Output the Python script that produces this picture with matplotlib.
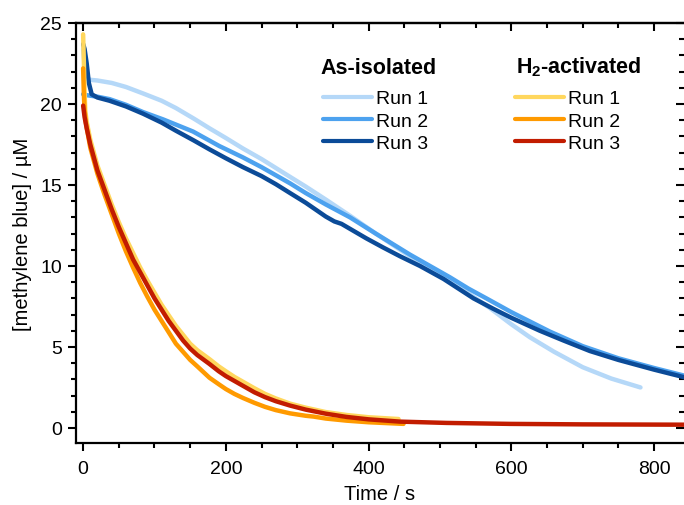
import matplotlib
matplotlib.use("Agg")
import matplotlib.pyplot as plt
from matplotlib.ticker import MultipleLocator

plt.rcParams['font.family'] = ['Liberation Sans', 'DejaVu Sans']
plt.rcParams['mathtext.fontset'] = 'custom'
plt.rcParams['mathtext.rm'] = 'Liberation Sans'
plt.rcParams['mathtext.bf'] = 'Liberation Sans:bold'

# As-isolated runs (time in s, concentration in uM)
t_ai1 = [0, 3, 8, 20, 40, 60, 84, 110, 130, 155, 177, 200, 224, 250, 270, 290, 312, 340, 374,
         410, 458, 490, 514, 540, 570, 600, 626, 660, 700, 740, 781]
c_ai1 = [23.4, 22.0, 21.5, 21.45, 21.3, 21.05, 20.65, 20.2, 19.75, 19.1, 18.5, 17.9, 17.25, 16.6,
         16.05, 15.5, 14.9, 14.1, 13.1, 12.0, 10.6, 9.8, 9.1, 8.3, 7.4, 6.4, 5.6, 4.7, 3.75, 3.05, 2.5]

t_ai2 = [0, 4, 20, 37, 60, 84, 112, 154, 191, 224, 250, 270, 290, 312, 340, 374, 410, 458, 490,
         514, 540, 565, 600, 654, 700, 750, 800, 845]
c_ai2 = [20.6, 20.55, 20.45, 20.3, 19.95, 19.5, 19.05, 18.3, 17.4, 16.7, 16.1, 15.6, 15.1, 14.5,
         13.8, 13.0, 12.0, 10.7, 9.9, 9.3, 8.6, 8.0, 7.15, 5.95, 5.05, 4.3, 3.7, 3.2]

t_ai3 = [0, 2, 5, 8, 12, 20, 37, 60, 84, 110, 130, 155, 177, 200, 224, 250, 270, 290, 312, 340,
         352, 362, 397, 420, 444, 472, 505, 547, 575, 600, 640, 673, 710, 750, 800, 845]
c_ai3 = [23.7, 23.4, 22.5, 21.3, 20.6, 20.4, 20.2, 19.85, 19.4, 18.85, 18.35, 17.75, 17.2, 16.65,
         16.1, 15.55, 15.05, 14.5, 13.9, 13.05, 12.75, 12.6, 11.7, 11.15, 10.6, 10.0, 9.2, 8.0,
         7.35, 6.8, 6.0, 5.4, 4.75, 4.2, 3.6, 3.1]

# H2-activated runs
t_h1 = [0, 1, 2, 3, 5, 10, 15, 20, 30, 40, 50, 60, 70, 80, 90, 100, 110, 120, 130, 140, 150, 160,
        177, 190, 200, 212, 224, 240, 255, 270, 290, 312, 340, 369, 400, 442]
c_h1 = [24.3, 22.6, 20.8, 19.6, 18.9, 17.8, 17.0, 16.2, 15.0, 13.8, 12.7, 11.7, 10.8, 9.9, 9.1,
        8.35, 7.6, 6.95, 6.3, 5.75, 5.2, 4.8, 4.25, 3.8, 3.5, 3.15, 2.85, 2.45, 2.1, 1.82, 1.5,
        1.25, 0.98, 0.8, 0.66, 0.55]

t_h2 = [0, 1, 2, 4, 10, 15, 20, 30, 40, 50, 60, 70, 80, 90, 100, 110, 120, 130, 140, 150, 160,
        177, 190, 200, 212, 224, 240, 255, 270, 290, 312, 323, 340, 369, 400, 449]
c_h2 = [22.2, 20.6, 19.6, 18.8, 17.3, 16.5, 15.7, 14.4, 13.2, 12.0, 10.9, 9.9, 8.95, 8.1, 7.3, 6.6,
        5.9, 5.2, 4.7, 4.2, 3.8, 3.1, 2.7, 2.4, 2.1, 1.85, 1.55, 1.3, 1.1, 0.9, 0.75, 0.7, 0.58,
        0.45, 0.35, 0.25]

t_h3 = [0, 2, 5, 10, 15, 20, 30, 40, 50, 60, 70, 80, 90, 100, 110, 120, 130, 140, 150, 160, 177,
        190, 200, 212, 224, 240, 255, 270, 290, 312, 340, 369, 400, 444, 509, 598, 700, 845]
c_h3 = [19.9, 19.2, 18.5, 17.5, 16.7, 15.9, 14.7, 13.5, 12.4, 11.4, 10.4, 9.6, 8.8, 8.0, 7.3, 6.6,
        6.0, 5.4, 4.9, 4.5, 3.95, 3.5, 3.2, 2.9, 2.6, 2.2, 1.9, 1.65, 1.38, 1.13, 0.88, 0.68,
        0.53, 0.39, 0.31, 0.25, 0.22, 0.2]

labels = ["Run 1", "Run 2", "Run 3"]
blues = ["#b5d8f8", "#4da2ef", "#0b4b98"]
warms = ["#ffd75e", "#ff9a00", "#c21c00"]

fig = plt.figure(figsize=(6.84, 5.06), dpi=100)
ax = fig.add_axes([76/684, 62/506, 1 - 76/684, 420/506])

lw = 3.2
ai_lines = []
for t, c, col, lab in zip([t_ai1, t_ai2, t_ai3], [c_ai1, c_ai2, c_ai3], blues, labels):
    l, = ax.plot(t, c, color=col, lw=lw, label=lab, solid_capstyle='round', solid_joinstyle='round')
    ai_lines.append(l)
h_lines = []
for t, c, col, lab in zip([t_h1, t_h2, t_h3], [c_h1, c_h2, c_h3], warms, labels):
    l, = ax.plot(t, c, color=col, lw=lw, label=lab, solid_capstyle='round', solid_joinstyle='round')
    h_lines.append(l)

ax.set_xlim(-10, 842)
ax.set_ylim(-0.93, 25)

ax.xaxis.set_major_locator(MultipleLocator(200))
ax.xaxis.set_minor_locator(MultipleLocator(50))
ax.yaxis.set_major_locator(MultipleLocator(5))
ax.yaxis.set_minor_locator(MultipleLocator(1))
ax.tick_params(which='major', direction='out', length=6, width=1.5, labelsize=14, pad=4)
ax.tick_params(which='minor', direction='out', length=3.3, width=1.5)
ax.tick_params(axis='x', which='major', pad=6)
for s in ['left', 'bottom', 'top']:
    ax.spines[s].set_linewidth(1.6)
ax.spines['right'].set_visible(False)

# inward ticks on top and right
sx = ax.secondary_xaxis('top')
sx.xaxis.set_major_locator(MultipleLocator(200))
sx.xaxis.set_minor_locator(MultipleLocator(50))
sx.tick_params(which='major', direction='in', length=6, width=1.5, labeltop=False)
sx.tick_params(which='minor', direction='in', length=3.3, width=1.5)
sx.spines['top'].set_linewidth(1.6)
sy = ax.secondary_yaxis('right')
sy.yaxis.set_major_locator(MultipleLocator(5))
sy.yaxis.set_minor_locator(MultipleLocator(1))
sy.tick_params(which='major', direction='in', length=6, width=1.5, labelright=False)
sy.tick_params(which='minor', direction='in', length=3.3, width=1.5)
sy.spines['right'].set_visible(False)

ax.set_xlabel("Time / s", fontsize=14.5, labelpad=5)
ax.set_ylabel("[methylene blue] / µM", fontsize=14.5, labelpad=6)

# legend titles
fig.text(320/684, (506 - 73.5)/506, "As-isolated", fontsize=15.5, fontweight='bold',
         ha='left', va='baseline')
fig.text(516/684, (506 - 73.5)/506, r"H$_\mathbf{2}$-activated", fontsize=15.5, fontweight='bold',
         ha='left', va='baseline')

leg_kw = dict(frameon=False, fontsize=14, handlelength=2.5, handletextpad=0.25,
              labelspacing=0.25, borderpad=0, borderaxespad=0, loc='center left')
leg1 = ax.legend(handles=ai_lines, bbox_to_anchor=((323 - 76)/608, (444 - 122)/420), **leg_kw)
ax.add_artist(leg1)
leg2 = ax.legend(handles=h_lines, bbox_to_anchor=((515 - 76)/608, (444 - 122)/420), **leg_kw)
for leg in (leg1, leg2):
    for h in leg.legend_handles:
        h.set_linewidth(3)

fig.savefig("out.png", dpi=100)
